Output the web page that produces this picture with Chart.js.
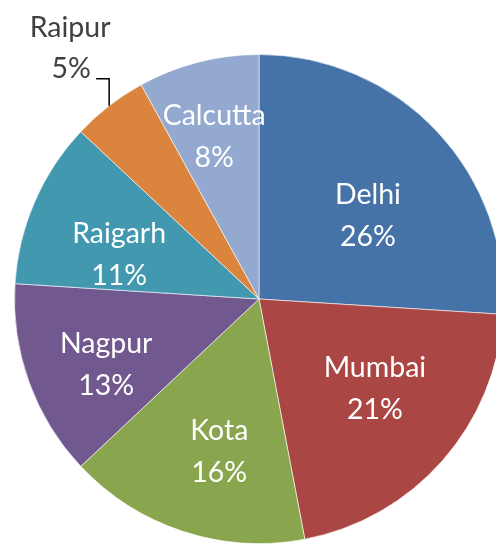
<!DOCTYPE html>
<html>
<head>
<meta charset="utf-8">
<script src="https://cdn.jsdelivr.net/npm/chart.js@4.4.0/dist/chart.umd.min.js"></script>
<style>
  html, body { margin: 0; padding: 0; overflow: hidden; background: #fff; }
  #wrap { width: 518px; height: 546px; }
</style>
</head>
<body>
<div id="wrap"><canvas id="myChart" width="518" height="546"></canvas></div>
<script>
// city shares, clockwise from 12 o'clock
const cities = ['Delhi', 'Mumbai', 'Kota', 'Nagpur', 'Raigarh', 'Raipur', 'Calcutta'];
const shares = [26, 21, 16, 13, 11, 5, 8];
const sliceColors = ['#4572A7', '#AA4643', '#89A54E', '#71588F', '#4198AF', '#DB843D', '#93A9CF'];

// label placement: angle nudge (deg) and radius fraction, null = outside label
const labelPlace = [
  { da: 5.9, r: 0.56 },
  { da: -3.6, r: 0.60 },
  { da: -3.4, r: 0.645 },
  { da: -3.4, r: 0.68 },
  { da: -5.8, r: 0.60 },
  null,
  { da: -1, r: 0.69 },
];

const FONT = '28.5px Lato, "Open Sans", sans-serif';

const pieLabels = {
  id: 'pieLabels',
  afterDatasetsDraw(chart) {
    const ctx = chart.ctx;
    const meta = chart.getDatasetMeta(0);
    ctx.save();
    ctx.font = FONT;
    ctx.textAlign = 'center';
    ctx.textBaseline = 'middle';
    meta.data.forEach((arc, i) => {
      const p = arc.getProps(['x', 'y', 'startAngle', 'endAngle', 'outerRadius'], true);
      const mid = (p.startAngle + p.endAngle) / 2;
      const txt = shares[i] + '%';
      const place = labelPlace[i];
      if (place) {
        const a = mid + place.da * Math.PI / 180;
        const cx = p.x + Math.cos(a) * p.outerRadius * place.r;
        const cy = p.y + Math.sin(a) * p.outerRadius * place.r;
        ctx.fillStyle = '#ffffff';
        ctx.fillText(cities[i], cx, cy - 21);
        ctx.fillText(txt, cx, cy + 21);
      } else {
        // outside label with elbow leader line
        const ex = p.x + Math.cos(mid) * p.outerRadius;
        const ey = p.y + Math.sin(mid) * p.outerRadius;
        ctx.strokeStyle = '#000000';
        ctx.lineWidth = 1.5;
        ctx.beginPath();
        ctx.moveTo(ex, ey);
        ctx.lineTo(ex, ey - 27);
        ctx.lineTo(ex - 13, ey - 27);
        ctx.stroke();
        ctx.fillStyle = '#404040';
        ctx.fillText(cities[i], ex - 39, ey - 78);
        ctx.fillText(txt, ex - 38, ey - 37);
      }
    });
    ctx.restore();
  }
};

new Chart(document.getElementById('myChart'), {
  type: 'pie',
  data: {
    labels: cities,
    datasets: [{
      data: shares,
      backgroundColor: sliceColors,
      borderColor: 'rgba(255,255,255,0.6)',
      borderWidth: 1,
    }],
  },
  options: {
    responsive: false,
    animation: false,
    layout: { padding: { left: 13, right: 13, top: 54, bottom: 2 } },
    plugins: {
      legend: { display: false },
      tooltip: { enabled: false },
    },
  },
  plugins: [pieLabels],
});
</script>
</body>
</html>
